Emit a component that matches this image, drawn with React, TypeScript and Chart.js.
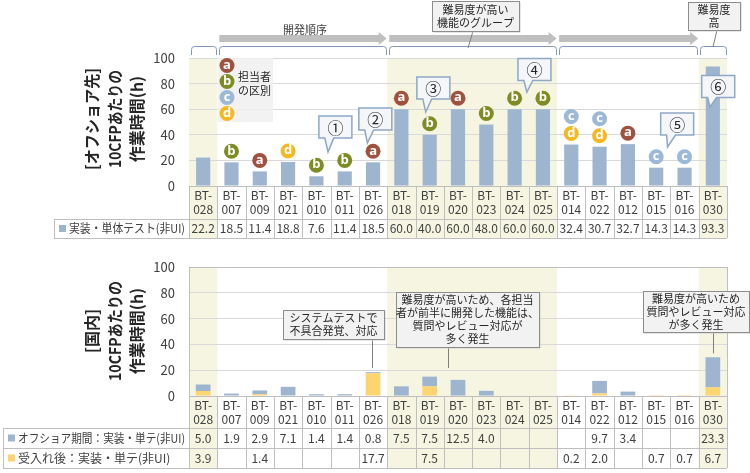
import React, { useEffect, useRef } from 'react';
import { Chart, registerables } from 'chart.js';

Chart.register(...registerables);

// ---------------- data ----------------
const categories = ['BT-028', 'BT-007', 'BT-009', 'BT-021', 'BT-010', 'BT-011', 'BT-026', 'BT-018', 'BT-019', 'BT-020', 'BT-023', 'BT-024', 'BT-025', 'BT-014', 'BT-022', 'BT-012', 'BT-015', 'BT-016', 'BT-030'];
const offshoreImplHours = [22.2, 18.5, 11.4, 18.8, 7.6, 11.4, 18.5, 60.0, 40.0, 60.0, 48.0, 60.0, 60.0, 32.4, 30.7, 32.7, 14.3, 14.3, 93.3];
const domesticOffshorePeriod = [5.0, 1.9, 2.9, 7.1, 1.4, 1.4, 0.8, 7.5, 7.5, 12.5, 4.0, null, null, null, 9.7, 3.4, null, null, 23.3];
const domesticAfterAcceptance = [3.9, null, 1.4, null, null, null, 17.7, null, 7.5, null, null, null, null, 0.2, 2.0, null, 0.7, 0.7, 6.7];
// assignee markers, listed bottom-up
const assignees = ['', 'b', 'a', 'd', 'b', 'b', 'a', 'a', 'b', 'a', 'b', 'b', 'b', 'dc', 'dc', 'a', 'c', 'c', ''];
const highlighted = [1, 0, 0, 0, 0, 0, 0, 1, 1, 1, 1, 1, 1, 0, 0, 0, 0, 0, 1];
const groups = [[0, 0], [1, 6], [7, 12], [13, 17], [18, 18]];
const topSeriesLabel = '実装・単体テスト(非UI)';
const bottomSeriesLabels = ['オフショア期間：実装・単テ(非UI)', '受入れ後：実装・単テ(非UI)'];
const topTitle = ['[オフショア先]', '10CFPあたりの', '作業時間(h)'];
const bottomTitle = ['[国内]', '10CFPあたりの', '作業時間(h)'];
const yMin = 0;
const yMax = 100;
const yStep = 20;

// ---------------- styles ----------------
const FONT = '"Noto Sans CJK JP", "Noto Sans", sans-serif';
const TEXT = '#404040';
const GRID = '#D9D9D9';
const LINE = '#BFBFBF';
const BLUE = '#9DB5CE';
const YELLOW = '#FCD470';
const BAND = '#F5F5E2';
const MARK: Record<string, string> = { a: '#A0523F', b: '#7F8C24', c: '#9DB9D8', d: '#F4B920' };

const colW = (chart: any) => (chart.chartArea.right - chart.chartArea.left) / categories.length;
const colL = (chart: any, i: number) => chart.scales.x.getPixelForValue(i) - colW(chart) / 2;
const colR = (chart: any, i: number) => chart.scales.x.getPixelForValue(i) + colW(chart) / 2;

function drawBands(chart: any, bottom: number) {
  const ctx = chart.ctx;
  ctx.save();
  ctx.fillStyle = BAND;
  let i = 0;
  while (i < categories.length) {
    if (highlighted[i]) {
      let j = i;
      while (j + 1 < categories.length && highlighted[j + 1]) j++;
      const l = colL(chart, i), r = colR(chart, j);
      ctx.fillRect(l, chart.chartArea.top, r - l, bottom - chart.chartArea.top);
      i = j + 1;
    } else i++;
  }
  ctx.restore();
}

function drawTable(chart: any, rows: { label: string; color: string; values: (number | null)[] }[], labelH: number, rowH: number, legendLeft: number) {
  const ctx = chart.ctx;
  const ca = chart.chartArea;
  const x = chart.scales.x;
  const n = categories.length;
  const y0 = ca.bottom, y1 = y0 + labelH, yEnd = y1 + rowH * rows.length;
  ctx.save();
  ctx.strokeStyle = LINE;
  ctx.lineWidth = 1;
  const h = (y: number, a: number, b: number) => { ctx.beginPath(); ctx.moveTo(a, Math.round(y) + 0.5); ctx.lineTo(b, Math.round(y) + 0.5); ctx.stroke(); };
  const v = (xx: number, a: number, b: number) => { ctx.beginPath(); ctx.moveTo(Math.round(xx) + 0.5, a); ctx.lineTo(Math.round(xx) + 0.5, b); ctx.stroke(); };
  h(y0, ca.left, ca.right);
  for (let r = 0; r <= rows.length; r++) h(y1 + r * rowH, legendLeft, ca.right);
  for (let i = 0; i <= n; i++) v(ca.left + i * colW(chart), y0, yEnd);
  v(legendLeft, y1, yEnd);
  ctx.fillStyle = TEXT;
  ctx.font = `12px ${FONT}`;
  ctx.textAlign = 'center';
  ctx.textBaseline = 'middle';
  categories.forEach((c, i) => {
    const [a, b] = c.split('-');
    const cx = x.getPixelForValue(i);
    ctx.fillText(a + '-', cx, y0 + 9.5);
    ctx.fillText(b, cx, y0 + 23.5);
  });
  rows.forEach((row, r) => {
    const cy = y1 + r * rowH + rowH / 2;
    ctx.fillStyle = TEXT;
    ctx.font = `12px ${FONT}`;
    ctx.textAlign = 'center';
    row.values.forEach((val, i) => {
      if (val != null) ctx.fillText(val.toFixed(1), x.getPixelForValue(i), cy);
    });
    ctx.fillStyle = row.color;
    ctx.fillRect(legendLeft + 5, cy - 3.5, 7, 7);
    ctx.fillStyle = TEXT;
    ctx.textAlign = 'left';
    ctx.font = `12px ${FONT}`;
    const maxW = ca.left - legendLeft - 19;
    const w = ctx.measureText(row.label).width;
    ctx.fillText(row.label, legendLeft + 15, cy, Math.min(w, maxW));
  });
  ctx.restore();
}

function drawYTitle(ctx: CanvasRenderingContext2D, lines: string[], cy: number, widths: number[]) {
  const xs = [92, 114.5, 137];
  ctx.save();
  ctx.font = `bold 16px ${FONT}`;
  ctx.fillStyle = '#262626';
  ctx.textAlign = 'center';
  ctx.textBaseline = 'middle';
  lines.forEach((t, k) => {
    ctx.save();
    ctx.translate(xs[k], cy);
    ctx.rotate(-Math.PI / 2);
    const w = ctx.measureText(t).width;
    ctx.fillText(t, 0, 0, Math.min(w, widths[k]));
    ctx.restore();
  });
  ctx.restore();
}

function noteBox(ctx: CanvasRenderingContext2D, l: number, t: number, w: number, hh: number, lines: string[], lineH: number, leader?: number[]) {
  ctx.save();
  if (leader) {
    ctx.strokeStyle = '#7F7F7F';
    ctx.lineWidth = 1;
    ctx.beginPath();
    ctx.moveTo(leader[0], leader[1]);
    ctx.lineTo(leader[2], leader[3]);
    ctx.stroke();
  }
  ctx.fillStyle = '#D0D0D0';
  ctx.fillRect(l + 1.5, t + 1.5, w, hh);
  ctx.fillStyle = '#F2F2F2';
  ctx.fillRect(l, t, w, hh);
  ctx.strokeStyle = '#8C8C8C';
  ctx.lineWidth = 1;
  ctx.strokeRect(Math.round(l) + 0.5, Math.round(t) + 0.5, Math.round(w), Math.round(hh));
  ctx.fillStyle = '#262626';
  ctx.font = `11px ${FONT}`;
  ctx.textAlign = 'center';
  ctx.textBaseline = 'middle';
  const cy = t + hh / 2;
  lines.forEach((s, k) => ctx.fillText(s, l + w / 2, cy + (k - (lines.length - 1) / 2) * lineH));
  ctx.restore();
}

function marker(ctx: CanvasRenderingContext2D, cx: number, cy: number, letter: string) {
  ctx.save();
  ctx.fillStyle = MARK[letter];
  ctx.beginPath();
  ctx.arc(cx, cy, 7.5, 0, Math.PI * 2);
  ctx.fill();
  ctx.fillStyle = '#FFFFFF';
  ctx.font = `bold 13px "Open Sans", "DejaVu Sans", sans-serif`;
  ctx.textAlign = 'center';
  ctx.textBaseline = 'middle';
  ctx.fillText(letter, cx, cy - 0.5);
  ctx.restore();
}

function wedgeCallout(chart: any, at: number[], tip: number[], text: string) {
  const ctx = chart.ctx;
  const x = chart.scales.x, y = chart.scales.y;
  const cx = x.getPixelForValue(at[0]), cy = y.getPixelForValue(at[1]);
  const tx = x.getPixelForValue(tip[0]), ty = y.getPixelForValue(tip[1]);
  const w = 33, hh = 22;
  const l = cx - w / 2, t = cy - hh / 2, r = cx + w / 2, b = cy + hh / 2;
  const b1 = l + w * 0.18, b2 = l + w * 0.45;
  ctx.save();
  ctx.beginPath();
  ctx.moveTo(l, t);
  ctx.lineTo(r, t);
  ctx.lineTo(r, b);
  ctx.lineTo(b2, b);
  ctx.lineTo(tx, ty);
  ctx.lineTo(b1, b);
  ctx.lineTo(l, b);
  ctx.closePath();
  ctx.fillStyle = '#F4F6F9';
  ctx.fill();
  ctx.strokeStyle = '#8EA8C6';
  ctx.lineWidth = 1.5;
  ctx.stroke();
  ctx.fillStyle = '#262626';
  ctx.font = `16px ${FONT}`;
  ctx.textAlign = 'center';
  ctx.textBaseline = 'middle';
  ctx.fillText(text, cx, cy + 0.5);
  ctx.restore();
}

const topPlugin = {
  id: 'topDecor',
  beforeDraw(chart: any) {
    drawBands(chart, chart.chartArea.bottom + 52);
  },
  afterDraw(chart: any) {
    const ctx = chart.ctx as CanvasRenderingContext2D;
    const ca = chart.chartArea;
    const y = chart.scales.y;
    const x = chart.scales.x;
    drawTable(chart, [{ label: topSeriesLabel, color: BLUE, values: offshoreImplHours }], 33, 19, 54);
    drawYTitle(ctx, topTitle, 119, [102, 98, 88]);

    // brackets
    ctx.save();
    ctx.strokeStyle = '#8497B9';
    ctx.lineWidth = 1;
    groups.forEach(([a, b]) => {
      const x1 = Math.round(colL(chart, a) + 1.5) + 0.5, x2 = Math.round(colR(chart, b) - 1.5) + 0.5;
      const yt = 46.5, yb = 55, r = 3;
      ctx.beginPath();
      ctx.moveTo(x1, yb);
      ctx.lineTo(x1, yt + r);
      ctx.arcTo(x1, yt, x1 + r, yt, r);
      ctx.lineTo(x2 - r, yt);
      ctx.arcTo(x2, yt, x2, yt + r, r);
      ctx.lineTo(x2, yb);
      ctx.stroke();
    });
    // arrows
    ctx.fillStyle = '#BFBFBF';
    groups.slice(1, 4).forEach(([a, b]) => {
      const x1 = colL(chart, a) + 2, x2 = colR(chart, b) - 0.5, cy = 38.5;
      ctx.beginPath();
      ctx.moveTo(x1, cy - 3.5);
      ctx.lineTo(x2 - 8, cy - 3.5);
      ctx.lineTo(x2 - 8, cy - 6.5);
      ctx.lineTo(x2, cy);
      ctx.lineTo(x2 - 8, cy + 6.5);
      ctx.lineTo(x2 - 8, cy + 3.5);
      ctx.lineTo(x1, cy + 3.5);
      ctx.closePath();
      ctx.fill();
    });
    ctx.fillStyle = TEXT;
    ctx.font = `11px ${FONT}`;
    ctx.textAlign = 'center';
    ctx.textBaseline = 'middle';
    ctx.fillText('開発順序', x.getPixelForValue(3.6), 29.5);

    // assignee legend
    ctx.fillStyle = 'rgba(240,240,240,0.85)';
    ctx.fillRect(ca.left + 29, ca.top, 55, 64);
    ['a', 'b', 'c', 'd'].forEach((l, k) => marker(ctx, ca.left + 38, ca.top + 7.5 + k * 16, l));
    ctx.fillStyle = '#262626';
    ctx.font = `11px ${FONT}`;
    ctx.textAlign = 'left';
    ctx.textBaseline = 'middle';
    ctx.fillText('担当者', ca.left + 49, ca.top + 19);
    ctx.fillText('の区別', ca.left + 49, ca.top + 33);
    ctx.restore();

    // assignee markers above bars
    assignees.forEach((s, i) => {
      const top = y.getPixelForValue(offshoreImplHours[i]);
      s.split('').forEach((l, k) => marker(ctx, x.getPixelForValue(i), top - 11 - k * 17, l));
    });

    // numbered callouts
    wedgeCallout(chart, [4.67, 46], [4.41, 26.6], '①');
    wedgeCallout(chart, [6.08, 52.3], [5.8, 33.6], '②');
    wedgeCallout(chart, [8.13, 76.6], [7.86, 57.8], '③');
    wedgeCallout(chart, [11.7, 91], [11.43, 73.4], '④');
    wedgeCallout(chart, [16.74, 48.4], [16.4, 30.5], '⑤');
    wedgeCallout(chart, [18.19, 77.7], [17.9, 61.7], '⑥');

    // group notes
    noteBox(ctx, 432, 1, 87, 30, ['難易度が高い', '機能のグループ'], 13, [473, 31, 468, 48]);
    noteBox(ctx, 688, 2, 52, 28, ['難易度', '高'], 13, [717, 30, 713, 47]);
  },
};

const bottomPlugin = {
  id: 'bottomDecor',
  beforeDraw(chart: any) {
    drawBands(chart, chart.chartArea.bottom + 72);
  },
  afterDraw(chart: any) {
    const ctx = chart.ctx as CanvasRenderingContext2D;
    const ca = chart.chartArea;
    const x = chart.scales.x;
    const y = chart.scales.y;
    ctx.save();
    ctx.strokeStyle = LINE;
    ctx.lineWidth = 1;
    ctx.strokeRect(Math.round(ca.left) + 0.5, Math.round(ca.top) + 0.5, Math.round(ca.right - ca.left), Math.round(ca.bottom - ca.top));
    ctx.restore();
    drawTable(chart, [
      { label: bottomSeriesLabels[0], color: BLUE, values: domesticOffshorePeriod },
      { label: bottomSeriesLabels[1], color: YELLOW, values: domesticAfterAcceptance },
    ], 32, 20, 3);
    drawYTitle(ctx, bottomTitle, 91, [45, 100, 87]);

    const stackTop = (i: number) => y.getPixelForValue((domesticOffshorePeriod[i] || 0) + (domesticAfterAcceptance[i] || 0));
    const x6 = Math.round(x.getPixelForValue(6) - 1) + 0.5;
    noteBox(ctx, 283, 70, 101, 29, ['システムテストで', '不具合発覚、対応'], 13, [x6, 99, x6, stackTop(6) - 4]);
    const x9 = Math.round(x.getPixelForValue(8.64)) + 0.5;
    noteBox(ctx, 396, 52, 143, 55, ['難易度が高いため、各担当', '者が前半に開発した機能は、', '質問やレビュー対応が', '多く発生'], 13, [x9, 107, x9, 128]);
    const x18 = Math.round(x.getPixelForValue(18)) + 0.5;
    noteBox(ctx, 643, 51, 106, 41, ['難易度が高いため', '質問やレビュー対応', 'が多く発生'], 13, [x18, 92, x18, stackTop(18) - 4]);
  },
};

const yScale = (stacked: boolean) => ({
  stacked,
  min: yMin,
  max: yMax,
  ticks: { stepSize: yStep, color: TEXT, font: { family: FONT, size: 13 }, padding: 14 },
  grid: { color: GRID, drawTicks: false },
  border: { display: false },
  afterFit: (s: any) => { s.width = 40; },
});

export default function App() {
  const topRef = useRef<HTMLCanvasElement>(null);
  const botRef = useRef<HTMLCanvasElement>(null);

  useEffect(() => {
    const top = new Chart(topRef.current!, {
      type: 'bar',
      data: {
        labels: categories,
        datasets: [{
          label: topSeriesLabel,
          data: offshoreImplHours,
          backgroundColor: BLUE,
          borderWidth: 0,
          barPercentage: 0.5,
          categoryPercentage: 1,
        }],
      },
      options: {
        responsive: false,
        animation: false,
        devicePixelRatio: 1,
        layout: { padding: { left: 149, right: 23, top: 58, bottom: 54 } },
        plugins: { legend: { display: false }, tooltip: { enabled: false } },
        scales: {
          x: { display: false },
          y: yScale(false) as any,
        },
      },
      plugins: [topPlugin],
    });
    const bot = new Chart(botRef.current!, {
      type: 'bar',
      data: {
        labels: categories,
        datasets: [
          {
            label: bottomSeriesLabels[1],
            data: domesticAfterAcceptance,
            backgroundColor: YELLOW,
            borderWidth: 0,
            barPercentage: 0.52,
            categoryPercentage: 1,
          },
          {
            label: bottomSeriesLabels[0],
            data: domesticOffshorePeriod,
            backgroundColor: BLUE,
            borderWidth: 0,
            barPercentage: 0.52,
            categoryPercentage: 1,
          },
        ],
      },
      options: {
        responsive: false,
        animation: false,
        devicePixelRatio: 1,
        layout: { padding: { left: 149, right: 23, top: 27, bottom: 77 } },
        plugins: { legend: { display: false }, tooltip: { enabled: false } },
        scales: {
          x: { display: false, stacked: true },
          y: yScale(true) as any,
        },
      },
      plugins: [bottomPlugin],
    });
    return () => {
      top.destroy();
      bot.destroy();
    };
  }, []);

  return (
    <div style={{ position: 'absolute', left: 0, top: 0, width: 750, height: 473, background: '#FFFFFF' }}>
      <canvas ref={topRef} width={750} height={240} style={{ position: 'absolute', left: 0, top: 0 }} />
      <canvas ref={botRef} width={750} height={233} style={{ position: 'absolute', left: 0, top: 240 }} />
    </div>
  );
}
